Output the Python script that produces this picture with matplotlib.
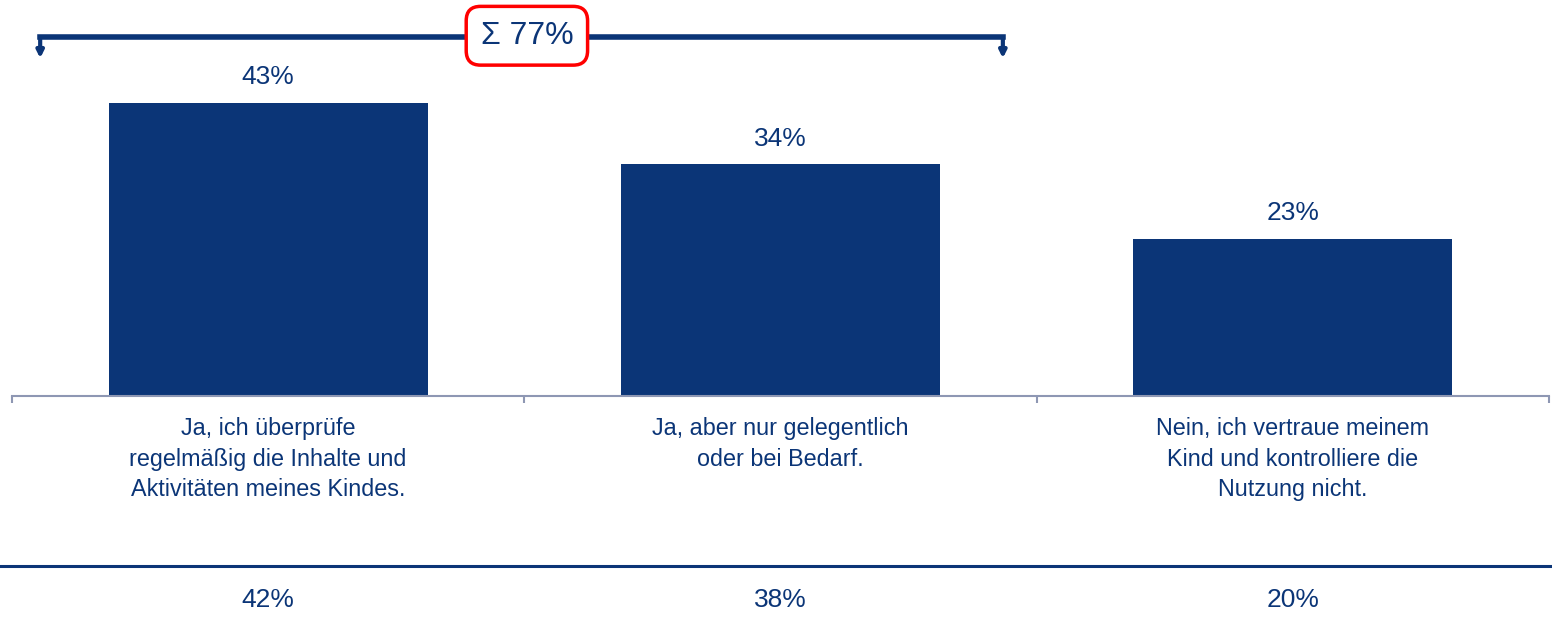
import matplotlib
matplotlib.use("Agg")
import matplotlib.pyplot as plt
import matplotlib.transforms as mtransforms
from matplotlib.patches import FancyArrowPatch

plt.rcParams['font.family'] = ['Liberation Sans', 'DejaVu Sans']

categories = [
    "Ja, ich überprüfe\nregelmäßig die Inhalte und\nAktivitäten meines Kindes.",
    "Ja, aber nur gelegentlich\noder bei Bedarf.",
    "Nein, ich vertraue meinem\nKind und kontrolliere die\nNutzung nicht.",
]
values = [43, 34, 23]
previous = [42, 38, 20]
sum_label = "Σ 77%"

navy = '#0B3577'
axis_grey = '#8E97B3'

fig = plt.figure(figsize=(15.52, 6.21), dpi=100)
ax = fig.add_axes([12 / 1552, 225 / 621, 1537 / 1552, 396 / 621])

x = list(range(len(values)))
ax.bar(x, values, width=0.623, color=navy, zorder=2)
ax.set_xlim(-0.5, len(values) - 0.5)
ax.set_ylim(0, 58.15)

for s in ['top', 'right', 'left']:
    ax.spines[s].set_visible(False)
ax.spines['bottom'].set_color(axis_grey)
ax.spines['bottom'].set_linewidth(1.5)
ax.set_yticks([])
ax.set_xticks([i - 0.5 for i in range(len(values) + 1)])
ax.set_xticklabels([])
ax.tick_params(axis='x', length=5, width=1.5, color=axis_grey)

# value labels above bars
for xi, v in zip(x, values):
    ax.annotate(f"{v}%", (xi, v), xytext=(0, 10), textcoords='offset points',
                ha='center', va='bottom', fontsize=19, color=navy)

# category labels below axis
for xi, lab in zip(x, categories):
    ax.text(xi, -3.1, lab, ha='center', va='top', fontsize=16.8, color=navy,
            linespacing=1.42, clip_on=False)

# bottom comparison row
trans = mtransforms.blended_transform_factory(fig.transFigure, ax.transData)
ax.plot([0, 1], [-25.0, -25.0], color=navy, lw=2.2, transform=trans, clip_on=False)
for xi, p in zip(x, previous):
    ax.text(xi, -30.0, f"{p}%", ha='center', va='center', fontsize=19,
            color=navy, clip_on=False)

# bracket over first two bars
yb = 52.7
left, right = 0 - 0.445, 1 + 0.434
ax.plot([left, right], [yb, yb], color=navy, lw=4, solid_capstyle='projecting',
        clip_on=False, zorder=3)
for xe in (left, right):
    ax.add_patch(FancyArrowPatch((xe, yb), (xe, 49.6), arrowstyle='-|>',
                                 mutation_scale=10, color=navy, lw=3,
                                 shrinkA=0, shrinkB=0, clip_on=False, zorder=3))

ax.text(0.505, 52.9, sum_label, ha='center', va='center', fontsize=23, color=navy,
        zorder=4, clip_on=False,
        bbox=dict(boxstyle='round,pad=0.45,rounding_size=0.45', fc='white',
                  ec='#FF0000', lw=2.5))

fig.savefig('out.png', dpi=100)
